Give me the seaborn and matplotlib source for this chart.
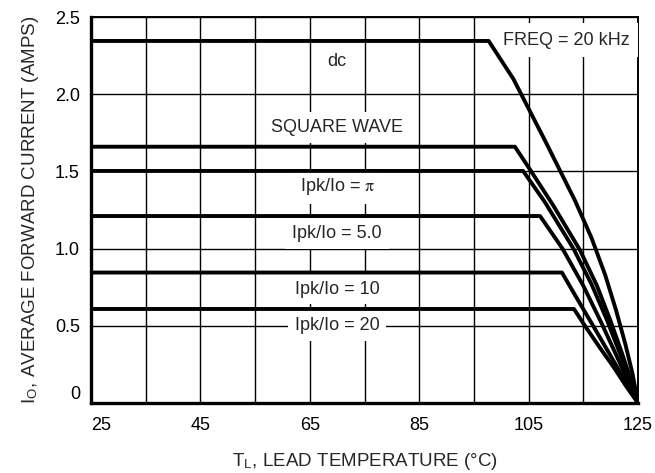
import matplotlib
matplotlib.use("Agg")
import matplotlib.pyplot as plt
import seaborn as sns
import pandas as pd

# lead temperature (C) vs average forward current (A)
temp_dc = [25, 97.7, 102.2, 108, 113.5, 116.5, 119, 121, 122.7, 124, 125]
amps_dc = [2.345, 2.345, 2.10, 1.70, 1.31, 1.07, 0.83, 0.60, 0.38, 0.19, 0]
temp_sq = [25, 102.5, 105.3, 109.5, 114.4, 117.5, 120, 122, 123.7, 125]
amps_sq = [1.66, 1.66, 1.51, 1.28, 0.99, 0.76, 0.53, 0.33, 0.15, 0]
temp_pi = [25, 104, 108, 113.2, 116.5, 119.3, 121.6, 123.5, 125]
amps_pi = [1.503, 1.503, 1.30, 1.0, 0.77, 0.54, 0.33, 0.15, 0]
temp_5 = [25, 107.1, 111.2, 115, 118.3, 120.9, 123.2, 125]
amps_5 = [1.211, 1.211, 1.0, 0.76, 0.52, 0.32, 0.14, 0]
temp_10 = [25, 111.1, 113.8, 116.8, 119.6, 122.2, 125]
amps_10 = [0.845, 0.845, 0.68, 0.5, 0.33, 0.17, 0]
temp_20 = [25, 113.3, 115.3, 118, 120.6, 123, 125]
amps_20 = [0.609, 0.609, 0.5, 0.36, 0.23, 0.1, 0]

curve_names = ["dc", "SQUARE WAVE", "Ipk/Io = $\\mathrm{\\pi}$", "Ipk/Io = 5.0",
               "Ipk/Io = 10", "Ipk/Io = 20"]
label_y = [2.21, 1.785, 1.40, 1.10, 0.738, 0.502]

x_ticks = [25, 35, 45, 55, 65, 75, 85, 95, 105, 115, 125]
x_labels = ["25", "", "45", "", "65", "", "85", "", "105", "", "125"]
y_ticks = [0, 0.5, 1.0, 1.5, 2.0, 2.5]
y_labels = ["0", "0.5", "1.0", "1.5", "2.0", "2.5"]

sns.set_style("white")
plt.rcParams['font.family'] = ['Liberation Sans', 'DejaVu Sans']
plt.rcParams['mathtext.fontset'] = 'stix'

fig = plt.figure(figsize=(6.55, 4.73), dpi=100)
ax = fig.add_axes([0.139, 0.148, 0.835, 0.816])

curves = [(temp_dc, amps_dc), (temp_sq, amps_sq), (temp_pi, amps_pi),
          (temp_5, amps_5), (temp_10, amps_10), (temp_20, amps_20)]
for t, a in curves:
    df = pd.DataFrame({"T": t, "I": a})
    sns.lineplot(data=df, x="T", y="I", color="black", lw=2.8, sort=False,
                 ax=ax, zorder=4, solid_joinstyle="round")

box = dict(facecolor="white", edgecolor="none", pad=5)
for name, yy in zip(curve_names, label_y):
    ax.text(70, yy, name, ha="center", va="center", fontsize=13, bbox=box, zorder=3)
ax.text(111.9, 2.35, "FREQ = 20 kHz", ha="center", va="center", fontsize=13,
        bbox=dict(facecolor="white", edgecolor="none", pad=6), zorder=3)

ax.set_xlim(25, 125)
ax.set_ylim(0, 2.5)
ax.set_xticks(x_ticks)
ax.set_xticklabels(x_labels)
ax.set_yticks(y_ticks)
ax.set_yticklabels(y_labels)
ax.get_xticklabels()[0].set_ha("left")
ax.get_yticklabels()[0].set_va("bottom")
ax.tick_params(axis="both", length=0, labelsize=13, colors="black")
ax.tick_params(axis="x", pad=10)
ax.tick_params(axis="y", pad=8)
ax.grid(True, color="black", lw=1.0, zorder=1)
ax.set_axisbelow(True)

for side in ["left", "bottom"]:
    ax.spines[side].set_linewidth(2.4)
    ax.spines[side].set_color("black")
for side in ["top", "right"]:
    ax.spines[side].set_linewidth(1.4)
    ax.spines[side].set_color("black")
    ax.spines[side].set_visible(True)

ax.set_xlabel("T$_\\mathregular{L}$, LEAD TEMPERATURE (°C)", fontsize=13.5, labelpad=12)
ax.set_ylabel("I$_\\mathregular{O}$, AVERAGE FORWARD CURRENT (AMPS)", fontsize=13.5, labelpad=10)

plt.savefig("out.png", dpi=100)
